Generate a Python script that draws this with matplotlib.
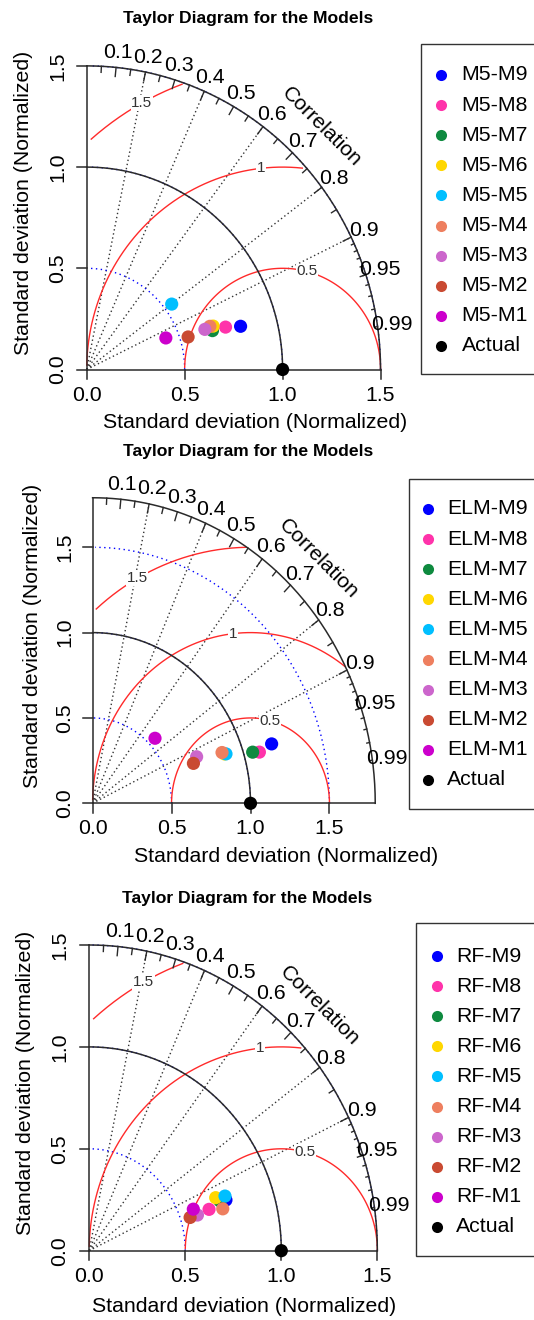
import numpy as np
import matplotlib
matplotlib.use("Agg")
import matplotlib.pyplot as plt
from matplotlib.patches import Rectangle

# ---------------- data ----------------
model_ids = ["M9", "M8", "M7", "M6", "M5", "M4", "M3", "M2", "M1"]
model_colors = ["#0000FF", "#FF33AA", "#0E8A3F", "#FFD700", "#00BFFF",
                "#EE7F5F", "#CC66CC", "#C94A32", "#CC00CC"]
prefixes = ["M5", "ELM", "RF"]

sd_m5 = [0.814, 0.739, 0.670, 0.680, 0.541, 0.664, 0.635, 0.542, 0.433]
cor_m5 = [0.965, 0.959, 0.958, 0.949, 0.802, 0.947, 0.950, 0.955, 0.933]

sd_elm = [1.186, 1.098, 1.057, 0.884, 0.893, 0.872, 0.713, 0.680, 0.549]
cor_elm = [0.956, 0.962, 0.959, 0.945, 0.946, 0.940, 0.924, 0.939, 0.720]

sd_rf = [0.754, 0.656, 0.723, 0.708, 0.756, 0.725, 0.590, 0.550, 0.579]
cor_rf = [0.944, 0.951, 0.941, 0.930, 0.935, 0.959, 0.955, 0.955, 0.936]

ref_sd = 1.0
max_sd = [1.5, 1.79, 1.5]
gammas = [0.5, 1.0, 1.5]
corr_labels = [0.1, 0.2, 0.3, 0.4, 0.5, 0.6, 0.7, 0.8, 0.9, 0.95, 0.99]
corr_lines = [0.2, 0.4, 0.6, 0.8, 0.9]
axis_ticks = [0.0, 0.5, 1.0, 1.5]

# ---------------- layout (pixels) ----------------
W, H = 534, 1320
panels = [
    dict(ox=86.7, oy=369.5, sx=195.9, sy=202.4, title=(248.5, 18.3),
         ylab_x=23.8, ylab_y=202.5, ytick_x=57.5, xtick_y=395, xlab=(255, 422.7),
         leg=(421.3, 44.3, 374.0), leg_mx=441, leg_tx=461.5, leg_y0=75),
    dict(ox=92.6, oy=803.3, sx=157.9, sy=170.7, title=(248.0, 451.7),
         ylab_x=32.4, ylab_y=635.8, ytick_x=64.7, xtick_y=828.3, xlab=(286, 856.7),
         leg=(408.7, 479.3, 809.3), leg_mx=427.5, leg_tx=447.2, leg_y0=509),
    dict(ox=89.2, oy=1250.7, sx=192.1, sy=203.8, title=(247.6, 898.3),
         ylab_x=25.5, ylab_y=1082.5, ytick_x=59.6, xtick_y=1276, xlab=(244.4, 1306),
         leg=(416.2, 923.3, 1255.7), leg_mx=436.6, leg_tx=456.4, leg_y0=956),
]
all_sd = [sd_m5, sd_elm, sd_rf]
all_cor = [cor_m5, cor_elm, cor_rf]

FONT = "Liberation Sans"
FS = 15.3
plt.rcParams["font.family"] = [FONT, "DejaVu Sans"]

fig = plt.figure(figsize=(W / 100, H / 100), dpi=100)


def fx(px):
    return px / W


def fy(py):
    return 1 - py / H


LINE = "#2a2a2a"
for k, p in enumerate(panels):
    ms = max_sd[k]
    L = 1.1 * ms
    ax = fig.add_axes([fx(p["ox"]), fy(p["oy"]), L * p["sx"] / W, L * p["sy"] / H])
    ax.set_xlim(0, L)
    ax.set_ylim(0, L)
    ax.axis("off")

    # correlation grid lines
    for g in corr_lines:
        ax.plot([0, ms * g], [0, ms * np.sqrt(1 - g * g)], ls=(0, (1, 2)),
                color="#333333", lw=1, clip_on=False, zorder=1)

    # sd arcs (blue dotted)
    th = np.arange(0, np.pi / 2 + 1e-9, 0.03)
    for s in [0.5, 1.0, 1.5]:
        if s <= ms + 1e-9:
            ax.plot(np.cos(th) * s, np.sin(th) * s, ls=(0, (1, 2.5)), color="blue",
                    lw=1, clip_on=False, zorder=1)

    # gamma (RMS) contours
    ang = np.arange(0, np.pi + 1e-9, 0.03)
    labelpos = [44, 56, 69]
    for gi, g in enumerate(gammas):
        xc = np.cos(ang) * g + ref_sd
        yc = np.sin(ang) * g
        neg = np.where(xc < 0)[0]
        end = neg.min() if len(neg) else len(ang)
        out = np.where(xc * xc + yc * yc > ms * ms)[0]
        start = out.max() + 1 if len(out) else 0
        ax.plot(xc[start:end], yc[start:end], color="#FF2A2A", lw=1,
                clip_on=False, zorder=2)
        lp = labelpos[gi]
        if xc[lp] > 0:
            lab = ("%g" % g)
            ax.text(xc[lp], yc[lp], lab, fontsize=11, color="#333333",
                    ha="center", va="center", zorder=3,
                    bbox=dict(facecolor="white", edgecolor="none", pad=0.6))

    # outer arc & reference arc
    th2 = np.linspace(0, np.pi / 2, 200)
    ax.plot(np.cos(th2) * ms, np.sin(th2) * ms, color=LINE, lw=1.1, clip_on=False, zorder=3)
    ax.plot(np.cos(th2) * ref_sd, np.sin(th2) * ref_sd, color=LINE, lw=1.1,
            clip_on=False, zorder=3)

    # axis segments
    ax.plot([0, ms], [0, 0], color=LINE, lw=1.1, clip_on=False, zorder=3)
    ax.plot([0, 0], [0, ms], color=LINE, lw=1.1, clip_on=False, zorder=3)
    tl_x = 9.5 / p["sx"]
    tl_y = 9.5 / p["sy"]
    for t in axis_ticks:
        ax.plot([t, t], [0, -tl_y], color=LINE, lw=1.1, clip_on=False, zorder=3)
        ax.plot([0, -tl_x], [t, t], color=LINE, lw=1.1, clip_on=False, zorder=3)
        fig.text(fx(p["ox"] + t * p["sx"]), fy(p["xtick_y"]), "%.1f" % t,
                 fontsize=FS, ha="center", va="center")
        fig.text(fx(p["ytick_x"]), fy(p["oy"] - t * p["sy"]), "%.1f" % t,
                 fontsize=FS, ha="center", va="center", rotation=90)

    # correlation ticks
    for vals, frac in [(np.arange(0.1, 0.91, 0.1), 0.97),
                       (np.arange(0.05, 0.96, 0.1), 0.98),
                       (np.arange(0.91, 0.995, 0.01), 0.99)]:
        a = np.arccos(vals)
        for aa in a:
            ax.plot([np.cos(aa) * ms, frac * np.cos(aa) * ms],
                    [np.sin(aa) * ms, frac * np.sin(aa) * ms],
                    color=LINE, lw=1, clip_on=False, zorder=3)

    # correlation labels
    for c in corr_labels:
        aa = np.arccos(c)
        ax.text(np.cos(aa) * 1.05 * ms, np.sin(aa) * 1.05 * ms, "%g" % c,
                fontsize=FS, ha="center", va="center", clip_on=False)
    ax.text(0.8 * ms, 0.8 * ms, "Correlation", rotation=-45, fontsize=FS,
            ha="center", va="center", rotation_mode="anchor")

    # points
    sds = np.array(all_sd[k])
    cors = np.array(all_cor[k])
    for i in range(len(model_ids)):
        ax.scatter(sds[i] * cors[i], sds[i] * np.sqrt(1 - cors[i] ** 2), s=90,
                   color=model_colors[i], edgecolors="none", zorder=5 + i,
                   clip_on=False)
    ax.scatter([ref_sd], [0], s=90, color="black", edgecolors="none", zorder=20,
               clip_on=False)

    # titles & labels
    fig.text(fx(p["title"][0]), fy(p["title"][1]), "Taylor Diagram for the Models",
             fontsize=12.6, fontweight="bold", ha="center", va="center")
    fig.text(fx(p["xlab"][0]), fy(p["xlab"][1]), "Standard deviation (Normalized)",
             fontsize=FS, ha="center", va="center")
    fig.text(fx(p["ylab_x"]), fy(p["ylab_y"]), "Standard deviation (Normalized)",
             fontsize=FS, ha="center", va="center", rotation=90)

    # legend
    lx, ltop, lbot = p["leg"]
    fig.patches.append(Rectangle((fx(lx), fy(lbot)), fx(W + 20 - lx), (lbot - ltop) / H,
                                 transform=fig.transFigure, facecolor="white",
                                 edgecolor="#333333", lw=1))
    names = ["%s-%s" % (prefixes[k], m) for m in model_ids] + ["Actual"]
    cols = model_colors + ["black"]
    for j, (nm, cl) in enumerate(zip(names, cols)):
        yy = p["leg_y0"] + 30.1 * j
        fig.add_artist(plt.Line2D([fx(p["leg_mx"])], [fy(yy)], marker="o",
                                  markersize=8, markerfacecolor=cl,
                                  markeredgecolor="none", ls="none",
                                  transform=fig.transFigure))
        fig.text(fx(p["leg_tx"]), fy(yy), nm, fontsize=FS, ha="left", va="center")

fig.savefig("out.png", dpi=100)
